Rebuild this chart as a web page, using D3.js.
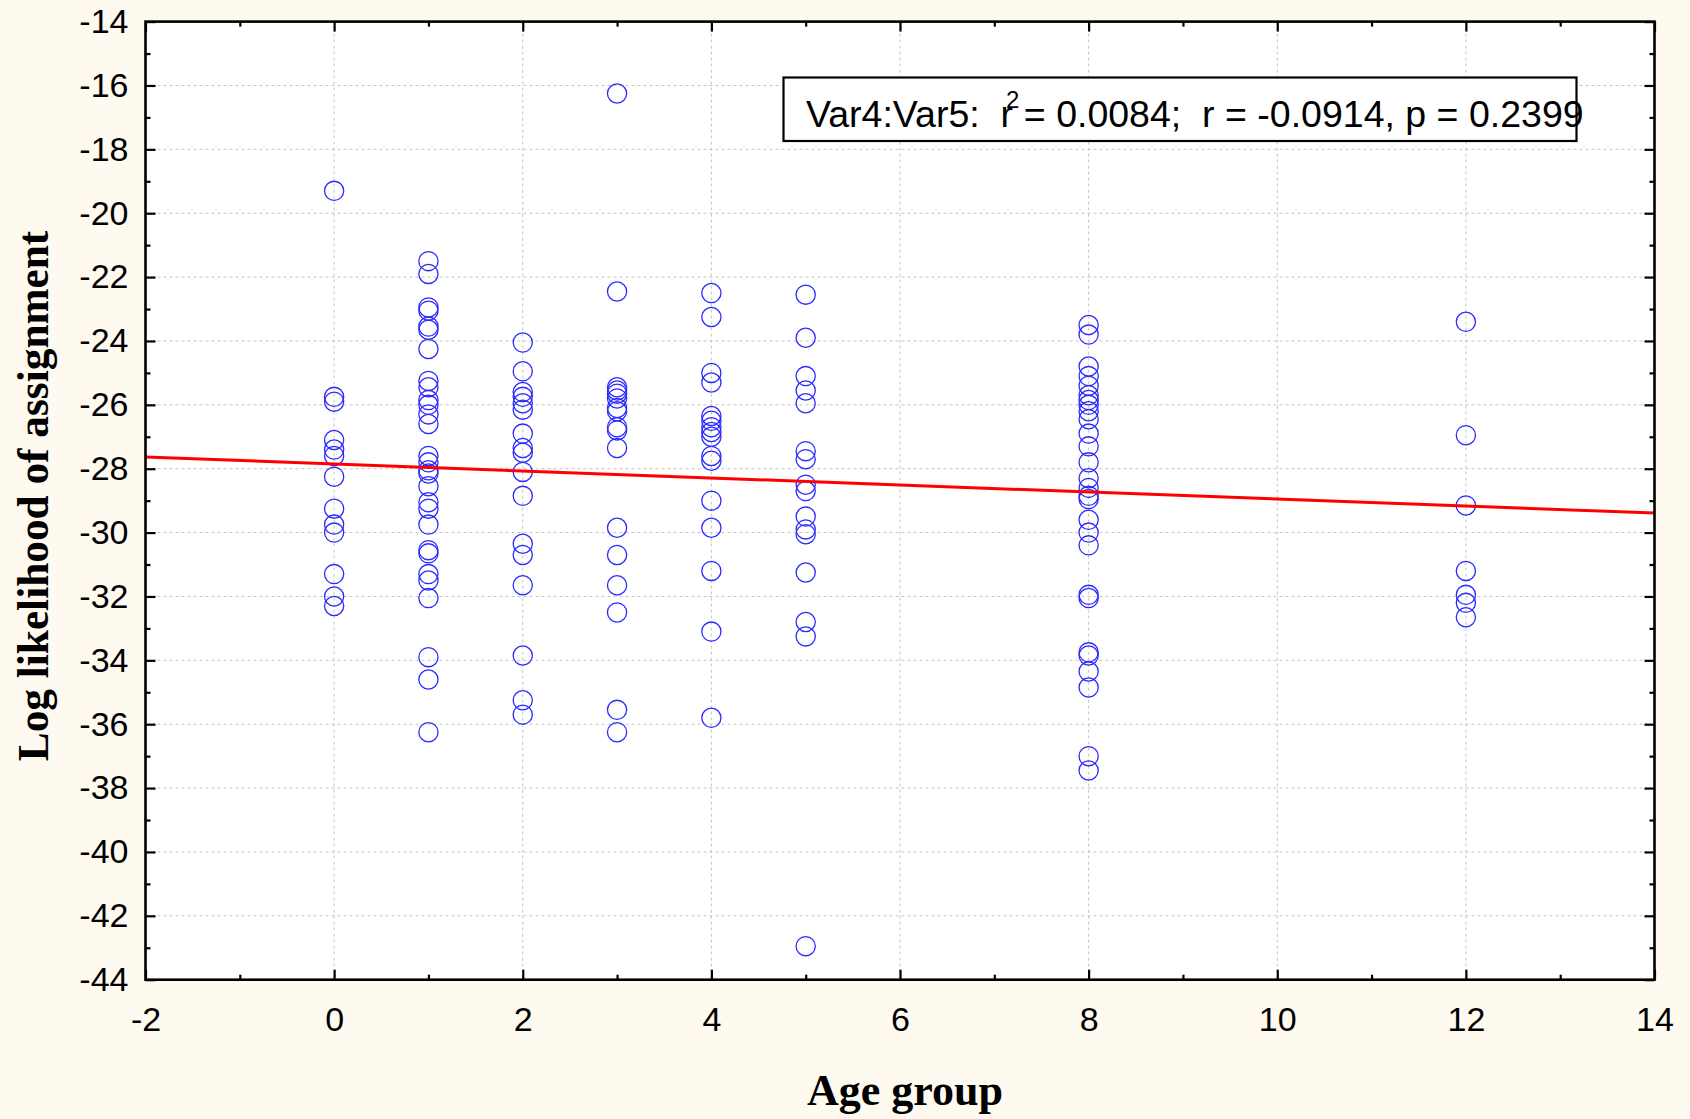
<!DOCTYPE html>
<html>
<head>
<meta charset="utf-8">
<script src="https://cdn.jsdelivr.net/npm/d3@7"></script>
<style>
  html, body { margin: 0; padding: 0; background: #FEFAF0; }
  svg { display: block; }
  .tick text { font-family: "Liberation Sans", Arial, sans-serif; font-size: 34px; fill: #000; }
</style>
</head>
<body>
<svg id="chart" width="1690" height="1119"></svg>
<script>
// ---- data ----
const ageGroups = [0, 1, 2, 3, 4, 5, 8, 12];
const logLik0  = [-19.3, -25.75, -25.9, -27.1, -27.4, -27.6, -28.25, -29.25, -29.75, -30.0, -31.3, -32.0, -32.3];
const logLik1  = [-21.5, -21.9, -22.95, -23.05, -23.55, -23.65, -24.25, -25.25, -25.45, -25.85, -26.0, -26.3, -26.6, -27.6, -27.8, -28.05, -28.15, -28.55, -29.05, -29.25, -29.75, -30.55, -30.65, -31.3, -31.5, -32.05, -33.9, -34.6, -36.25];
const logLik2  = [-24.05, -24.95, -25.6, -25.75, -25.95, -26.15, -26.9, -27.35, -27.5, -28.1, -28.85, -30.35, -30.7, -31.65, -33.85, -35.25, -35.7];
const logLik3  = [-16.25, -22.45, -25.45, -25.55, -25.65, -25.8, -26.1, -26.2, -26.7, -26.8, -27.35, -29.85, -30.7, -31.65, -32.5, -35.55, -36.25];
const logLik4  = [-22.5, -23.25, -25.0, -25.3, -26.35, -26.5, -26.7, -26.85, -27.0, -27.6, -27.75, -29.0, -29.85, -31.2, -33.1, -35.8];
const logLik5  = [-22.55, -23.9, -25.1, -25.55, -25.95, -27.45, -27.7, -28.5, -28.7, -29.5, -29.9, -30.05, -31.25, -32.8, -33.25, -42.95];
const logLik8  = [-23.5, -23.8, -24.8, -25.1, -25.4, -25.7, -25.85, -26.0, -26.2, -26.45, -26.9, -27.3, -27.8, -28.3, -28.6, -28.85, -28.95, -29.6, -30.0, -30.4, -31.95, -32.05, -33.75, -33.85, -34.35, -34.85, -37.0, -37.45];
const logLik12 = [-23.4, -26.95, -29.15, -31.2, -31.95, -32.2, -32.65];
const seriesByGroup = [logLik0, logLik1, logLik2, logLik3, logLik4, logLik5, logLik8, logLik12];

const xTicks = [-2, 0, 2, 4, 6, 8, 10, 12, 14];
const yTicks = [-14, -16, -18, -20, -22, -24, -26, -28, -30, -32, -34, -36, -38, -40, -42, -44];
const regression = { intercept: -27.85, slope: -0.11 };
const xTitle = "Age group";
const yTitle = "Log likelihood of assignment";
const statLabelA = "Var4:Var5:  r";
const statLabelSup = "2";
const statLabelB = " = 0.0084;  r = -0.0914, p = 0.2399";

// ---- layout ----
const svg = d3.select("#chart");
const L = 145.5, R = 1654.5, T = 21.6, B = 979.7;

const x = d3.scaleLinear().domain([-2, 14]).range([L, R]);
const y = d3.scaleLinear().domain([-44, -14]).range([B, T]);

const points = [];
ageGroups.forEach((g, i) => seriesByGroup[i].forEach(v => points.push({ g, v })));

// plot background
svg.append("rect").attr("x", L).attr("y", T).attr("width", R - L).attr("height", B - T).attr("fill", "#fff");

// grid
const grid = svg.append("g").attr("stroke", "#c4c4c4").attr("stroke-width", 1).attr("stroke-dasharray", "3,3");
grid.selectAll("line.v").data(xTicks.slice(1, -1)).join("line")
  .attr("x1", d => x(d)).attr("x2", d => x(d)).attr("y1", T).attr("y2", B);
grid.selectAll("line.h").data(yTicks.slice(1, -1)).join("line")
  .attr("y1", d => y(d)).attr("y2", d => y(d)).attr("x1", L).attr("x2", R);

// minor ticks
const xMinor = d3.range(-1, 14, 2);
const yMinor = d3.range(-43, -14, 2);
const axisStyle = g => { g.select(".domain").remove(); g.selectAll(".tick line").attr("stroke", "#000").attr("stroke-width", 2.2); };

svg.append("g").attr("transform", `translate(0,${B})`)
  .call(d3.axisBottom(x).tickValues(xTicks).tickFormat(d3.format("d")).tickSize(-10).tickPadding(27)).call(axisStyle);
svg.append("g").attr("transform", `translate(0,${B})`)
  .call(d3.axisBottom(x).tickValues(xMinor).tickFormat("").tickSize(-5)).call(axisStyle);
svg.append("g").attr("transform", `translate(0,${T})`)
  .call(d3.axisTop(x).tickValues(xTicks).tickFormat("").tickSize(-10)).call(axisStyle);
svg.append("g").attr("transform", `translate(0,${T})`)
  .call(d3.axisTop(x).tickValues(xMinor).tickFormat("").tickSize(-5)).call(axisStyle);

svg.append("g").attr("transform", `translate(${L},0)`)
  .call(d3.axisLeft(y).tickValues(yTicks).tickFormat(d3.format("d")).tickSize(-10).tickPadding(17)).call(axisStyle);
svg.append("g").attr("transform", `translate(${L},0)`)
  .call(d3.axisLeft(y).tickValues(yMinor).tickFormat("").tickSize(-5)).call(axisStyle);
svg.append("g").attr("transform", `translate(${R},0)`)
  .call(d3.axisRight(y).tickValues(yTicks).tickFormat("").tickSize(-10)).call(axisStyle);
svg.append("g").attr("transform", `translate(${R},0)`)
  .call(d3.axisRight(y).tickValues(yMinor).tickFormat("").tickSize(-5)).call(axisStyle);

svg.selectAll(".tick text").text(function(){ return this.textContent.replace("\u2212", "-"); });

// points
svg.append("g").selectAll("circle").data(points).join("circle")
  .attr("cx", d => x(d.g)).attr("cy", d => y(d.v)).attr("r", 9.6)
  .attr("fill", "none").attr("stroke", "#2a2aff").attr("stroke-width", 1.3);

// regression line
const line = d3.line().x(d => x(d)).y(d => y(regression.intercept + regression.slope * d));
svg.append("path").datum(x.domain()).attr("d", line)
  .attr("stroke", "#ff0000").attr("stroke-width", 3).attr("fill", "none");

// frame
svg.append("rect").attr("x", L).attr("y", T).attr("width", R - L).attr("height", B - T)
  .attr("fill", "none").attr("stroke", "#000").attr("stroke-width", 2.6);

// stats box
svg.append("rect").attr("x", 783.5).attr("y", 77.5).attr("width", 793).attr("height", 63.5)
  .attr("fill", "#fff").attr("stroke", "#000").attr("stroke-width", 2.2);
const st = svg.append("text").attr("x", 806).attr("y", 127)
  .style("white-space", "pre")
  .attr("font-family", "'Liberation Sans', Arial, sans-serif").attr("font-size", 37.5).attr("fill", "#000");
st.append("tspan").text(statLabelA);
st.append("tspan").attr("font-size", 24).attr("dx", -7).attr("dy", -19).text(statLabelSup);
st.append("tspan").attr("dx", -6).attr("dy", 19).text(statLabelB);

// titles
svg.append("text").attr("x", 905).attr("y", 1105).attr("text-anchor", "middle")
  .attr("font-family", "'Liberation Serif', 'Times New Roman', serif").attr("font-weight", "bold")
  .attr("font-size", 44).attr("fill", "#000").text(xTitle);
svg.append("text").attr("transform", "translate(48,496) rotate(-90)").attr("text-anchor", "middle")
  .attr("font-family", "'Liberation Serif', 'Times New Roman', serif").attr("font-weight", "bold")
  .attr("font-size", 43.3).attr("fill", "#000").text(yTitle);
</script>
</body>
</html>
